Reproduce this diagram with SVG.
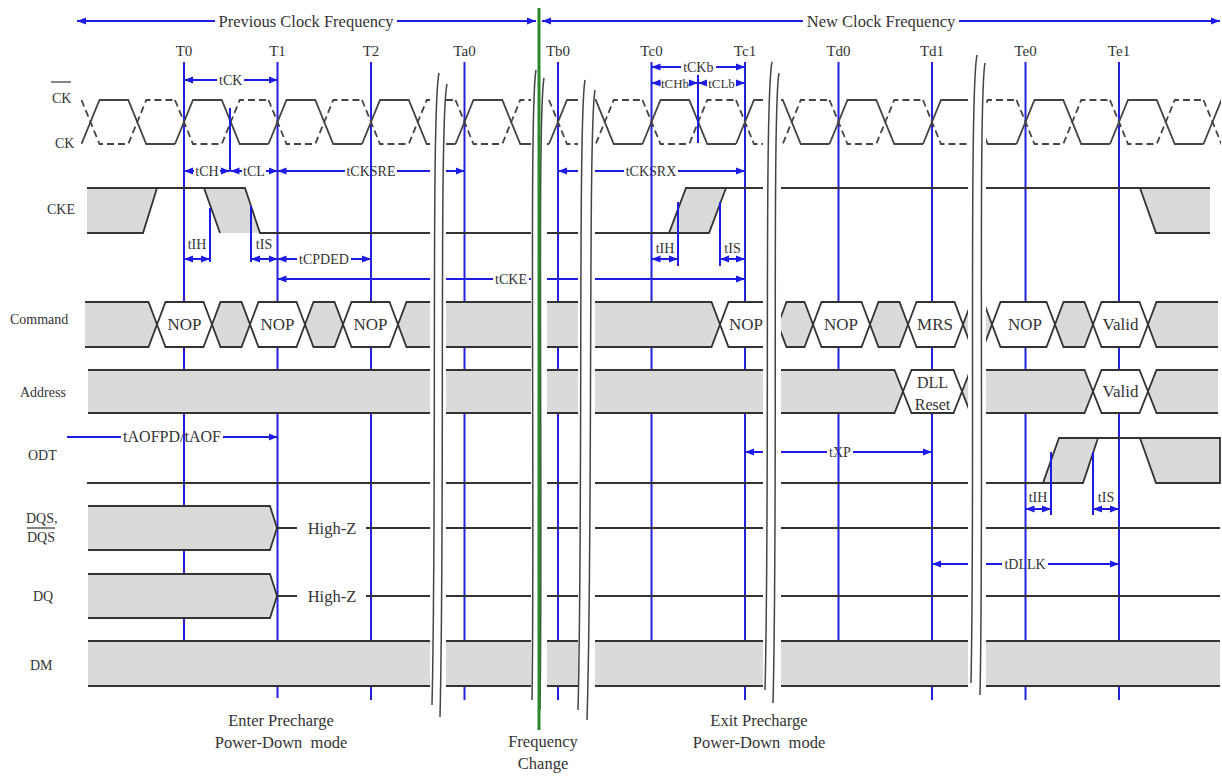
<svg xmlns="http://www.w3.org/2000/svg" xmlns:xlink="http://www.w3.org/1999/xlink" width="1222" height="776" viewBox="0 0 1222 776">
<style>
text{font-family:"Liberation Serif","Times New Roman",serif;fill:#333}
.lbl{font-size:14px}
.tl{font-size:15px;text-anchor:middle}
.dl{font-size:14px;text-anchor:middle}
.nl{font-size:14px;text-anchor:middle}
.cmd{font-size:17px;text-anchor:middle}
.big{font-size:16.5px;text-anchor:middle}
.clk{fill:none;stroke:#444;stroke-width:1.8}
.sig{fill:none;stroke:#333;stroke-width:1.8}
.g{fill:#dadada;stroke:#333;stroke-width:1.8}
.w{fill:#fff;stroke:#333;stroke-width:1.8}
.gf{fill:#dadada;stroke:none}
.bl{fill:none;stroke:#2222dd;stroke-width:2}
.dim{fill:none;stroke:#1c1ce6;stroke-width:2}
.brk{fill:none;stroke:#444;stroke-width:1.5}
</style>
<defs>
<marker id="ah" viewBox="0 0 10 8" refX="10" refY="4" markerWidth="9" markerHeight="7.5" markerUnits="userSpaceOnUse" orient="auto-start-reverse">
<path d="M0,0 L10,4 L0,8 Z" fill="#1c1ce6"/>
</marker>
<g id="ckp">
<path class="clk" d="M-9,144 L9,100 L37.75,100 L55.75,144 L84.5,144"/>
<path class="clk" stroke-dasharray="7 4" d="M-9,100 L9,144 L37.75,144 L55.75,100 L84.5,100"/>
</g>
<clipPath id="ckclip"><rect x="81" y="90" width="1140" height="60"/></clipPath>
</defs>
<rect width="1222" height="776" fill="#fff"/>

<!-- dimension lines (connectors) -->
<g id="dimensions">
<path class="dim" d="M184,80 L217,80" marker-start="url(#ah)"/>
<path class="dim" d="M244,80 L277.5,80" marker-end="url(#ah)"/>
<text class="dl" x="230.7" y="85">tCK</text>
<path class="dim" d="M651.5,67 L681,67" marker-start="url(#ah)"/>
<path class="dim" d="M716,67 L745,67" marker-end="url(#ah)"/>
<text class="dl" x="698.3" y="72">tCKb</text>
<path class="dim" d="M651.5,83 L660.5,83" marker-start="url(#ah)"/>
<path class="dim" d="M689.5,83 L698,83" marker-end="url(#ah)"/>
<text class="dl" x="675" y="88" style="font-size:13px">tCHb</text>
<path class="dim" d="M698,83 L707,83" marker-start="url(#ah)"/>
<path class="dim" d="M736,83 L745,83" marker-end="url(#ah)"/>
<text class="dl" x="721.5" y="88" style="font-size:13px">tCLb</text>
<path class="dim" d="M184,171 L194,171" marker-start="url(#ah)"/>
<path class="dim" d="M220,171 L230,171" marker-end="url(#ah)"/>
<text class="dl" x="207" y="176">tCH</text>
<path class="dim" d="M230.5,171 L242,171" marker-start="url(#ah)"/>
<path class="dim" d="M266,171 L277.5,171" marker-end="url(#ah)"/>
<text class="dl" x="254" y="176">tCL</text>
<path class="dim" d="M277.5,171 L345,171" marker-start="url(#ah)"/>
<path class="dim" d="M397,171 L464.5,171" marker-end="url(#ah)"/>
<text class="dl" x="371" y="176">tCKSRE</text>
<path class="dim" d="M558,171 L624,171" marker-start="url(#ah)"/>
<path class="dim" d="M678,171 L745,171" marker-end="url(#ah)"/>
<text class="dl" x="651" y="176">tCKSRX</text>
<path class="dim" d="M184,259 L210,259" marker-start="url(#ah)" marker-end="url(#ah)"/>
<text class="nl" x="197" y="249">tIH</text>
<path class="dim" d="M251,259 L277.5,259" marker-start="url(#ah)" marker-end="url(#ah)"/>
<text class="nl" x="264" y="249">tIS</text>
<path class="dim" d="M277.5,259 L297,259" marker-start="url(#ah)"/>
<path class="dim" d="M351,259 L371,259" marker-end="url(#ah)"/>
<text class="dl" x="324" y="264">tCPDED</text>
<path class="dim" d="M277.5,279 L493,279" marker-start="url(#ah)"/>
<path class="dim" d="M529,279 L745,279" marker-end="url(#ah)"/>
<text class="dl" x="511" y="284">tCKE</text>
<path class="dim" d="M651.5,259 L678,259" marker-start="url(#ah)" marker-end="url(#ah)"/>
<text class="nl" x="665" y="253">tIH</text>
<path class="dim" d="M720,259 L745,259" marker-start="url(#ah)" marker-end="url(#ah)"/>
<text class="nl" x="732.5" y="253">tIS</text>
<path class="dim" d="M67,437 L121,437"/>
<path class="dim" d="M223,437 L277.5,437" marker-end="url(#ah)"/>
<text class="dl" x="172" y="442" style="font-size:16px">tAOFPD/tAOF</text>
<path class="dim" d="M745,452 L827,452" marker-start="url(#ah)"/>
<path class="dim" d="M853,452 L932,452" marker-end="url(#ah)"/>
<text class="dl" x="840" y="457">tXP</text>
<path class="dim" d="M1025.5,509 L1051,509" marker-start="url(#ah)" marker-end="url(#ah)"/>
<text class="nl" x="1038" y="502">tIH</text>
<path class="dim" d="M1093,509 L1119,509" marker-start="url(#ah)" marker-end="url(#ah)"/>
<text class="nl" x="1106" y="502">tIS</text>
<path class="dim" d="M932,564 L1002,564" marker-start="url(#ah)"/>
<path class="dim" d="M1048,564 L1119,564" marker-end="url(#ah)"/>
<text class="dl" x="1025" y="569">tDLLK</text>
</g>

<!-- clock edge reference lines -->
<g id="edges">
<path class="bl" d="M184,62 V641 M277.5,62 V698 M371,62 V700 M464.5,62 V700 M558,62 V700 M651.5,62 V641 M745,62 V700 M838.5,62 V641 M932,62 V700 M1025.5,62 V700 M1119,62 V700"/>
</g>

<!-- clock -->
<g id="clock" clip-path="url(#ckclip)">
<use href="#ckp" x="90.5"/><use href="#ckp" x="184"/><use href="#ckp" x="277.5"/><use href="#ckp" x="371"/>
<use href="#ckp" x="464.5"/><use href="#ckp" x="558"/><use href="#ckp" x="651.5"/><use href="#ckp" x="745"/>
<use href="#ckp" x="838.5"/><use href="#ckp" x="932"/><use href="#ckp" x="1025.5"/><use href="#ckp" x="1119"/>
<use href="#ckp" x="1212.5"/>
</g>

<!-- CKE -->
<g id="cke">
<path class="gf" d="M87,188 L157,188 L143,233 L87,233 Z"/>
<path class="gf" d="M204,188 L245,188 L260,233 L220,233 Z"/>
<path class="gf" d="M669,233 L686,188 L726,188 L709,233 Z"/>
<path class="gf" d="M1140,188 L1210,188 L1210,233 L1156,233 Z"/>
<path class="sig" d="M87,188 L245,188 L260,233 L669,233 L686,188 L1210,188"/>
<path class="sig" d="M87,233 L143,233 L157,188 M204,188 L220,233 M669,233 L709,233 L726,188 M1140,188 L1156,233 L1210,233"/>
</g>

<!-- Command -->
<g id="command">
<path class="g" d="M85,302 L148.5,302 L157,324.5 L148.5,347 L85,347"/>
<path class="w" d="M157,324.5 L165.5,302 L203.5,302 L212,324.5 L203.5,347 L165.5,347 Z"/>
<path class="g" d="M212,324.5 L220.5,302 L241.5,302 L250,324.5 L241.5,347 L220.5,347 Z"/>
<path class="w" d="M250,324.5 L258.5,302 L296.5,302 L305,324.5 L296.5,347 L258.5,347 Z"/>
<path class="g" d="M305,324.5 L313.5,302 L334.5,302 L343,324.5 L334.5,347 L313.5,347 Z"/>
<path class="w" d="M343,324.5 L351.5,302 L389.5,302 L398,324.5 L389.5,347 L351.5,347 Z"/>
<path class="g" d="M398,324.5 L406.5,302 L711.5,302 L720,324.5 L711.5,347 L406.5,347 Z"/>
<path class="w" d="M720,324.5 L728.5,302 L769.5,302 L778,324.5 L769.5,347 L728.5,347 Z"/>
<path class="g" d="M778,324.5 L786.5,302 L804.5,302 L813,324.5 L804.5,347 L786.5,347 Z"/>
<path class="w" d="M813,324.5 L821.5,302 L861.5,302 L870,324.5 L861.5,347 L821.5,347 Z"/>
<path class="g" d="M870,324.5 L878.5,302 L899.5,302 L908,324.5 L899.5,347 L878.5,347 Z"/>
<path class="w" d="M908,324.5 L916.5,302 L954.5,302 L963,324.5 L954.5,347 L916.5,347 Z"/>
<path class="g" d="M963,324.5 L971.5,302 L983.5,302 L992,324.5 L983.5,347 L971.5,347 Z"/>
<path class="w" d="M992,324.5 L1000.5,302 L1046.5,302 L1055,324.5 L1046.5,347 L1000.5,347 Z"/>
<path class="g" d="M1055,324.5 L1063.5,302 L1084.5,302 L1093,324.5 L1084.5,347 L1063.5,347 Z"/>
<path class="w" d="M1093,324.5 L1101.5,302 L1139.5,302 L1148,324.5 L1139.5,347 L1101.5,347 Z"/>
<path class="g" d="M1218,302 L1156.5,302 L1148,324.5 L1156.5,347 L1218,347"/>
</g>

<!-- Address -->
<g id="address">
<path class="g" d="M88,370 L894.5,370 L903,391.5 L894.5,413 L88,413"/>
<path class="w" d="M903,391.5 L911.5,370 L953.5,370 L962,391.5 L953.5,413 L911.5,413 Z"/>
<path class="g" d="M962,391.5 L970.5,370 L1084.5,370 L1093,391.5 L1084.5,413 L970.5,413 Z"/>
<path class="w" d="M1093,391.5 L1101.5,370 L1139.5,370 L1148,391.5 L1139.5,413 L1101.5,413 Z"/>
<path class="g" d="M1218,370 L1156.5,370 L1148,391.5 L1156.5,413 L1218,413"/>
</g>

<!-- ODT -->
<g id="odt">
<path class="gf" d="M1043,483 L1059,438 L1098,438 L1083,483 Z"/>
<path class="gf" d="M1140,438 L1220,438 L1220,483 L1156,483 Z"/>
<path class="sig" d="M87,483 L1043,483 L1059,438 L1220,438 L1220,483 L1156,483 L1140,438"/>
<path class="sig" d="M1043,483 L1083,483 L1098,438"/>
</g>

<!-- DQS -->
<g id="dqs">
<path class="g" d="M88,506 L270,506 L277,528 L270,550 L88,550"/>
<path class="sig" d="M277,528 L297,528 M366,528 L1220,528"/>
</g>

<!-- DQ -->
<g id="dq">
<path class="g" d="M88,574 L270,574 L277,596 L270,618 L88,618"/>
<path class="sig" d="M277,596 L297,596 M366,596 L1220,596"/>
</g>

<!-- DM -->
<g id="dm">
<rect class="gf" x="88" y="641" width="1132" height="45"/>
<path class="sig" d="M88,641 L1220,641 M88,686 L1220,686"/>
</g>

<!-- setup/hold ticks -->
<g id="ticks">
<path class="dim" d="M230,108 V171 M698,75 V143 M210,208 V262 M251,206 V262 M678,202 V266 M720,202 V266 M1051,452 V515 M1093,452 V515"/>
</g>

<!-- time breaks -->
<g id="breaks">
<rect x="430" y="88" width="16" height="608" fill="#fff"/>
<path class="brk" d="M439,73 C431,110 437,500 432,705 M447,84 C439,120 445,510 440,717"/>
<rect x="531" y="88" width="16" height="608" fill="#fff"/>
<path class="brk" d="M536,70 C529,110 535,500 532,700 M544,78 C537,118 543,510 540,710"/>
<rect x="578" y="88" width="17" height="608" fill="#fff"/>
<path class="brk" d="M585,80 C578,120 583,520 578,710 M595,90 C588,130 593,530 587,720"/>
<rect x="763" y="88" width="18" height="608" fill="#fff"/>
<path class="brk" d="M772,62 C764,100 770,500 765,690 M779,73 C772,110 778,510 773,703"/>
<rect x="968" y="88" width="18" height="608" fill="#fff"/>
<path class="brk" d="M977,55 C969,95 975,500 971,683 M985,63 C978,100 984,510 980,695"/>
</g>

<!-- frequency change line -->
<g id="freq-change">
<line x1="539" y1="8" x2="539" y2="730" stroke="#2a8a2a" stroke-width="3"/>
</g>

<!-- top frequency arrows -->
<g id="freq-arrows">
<path class="dim" d="M77,21 L215,21" marker-start="url(#ah)"/>
<path class="dim" d="M397,21 L536,21" marker-end="url(#ah)"/>
<path class="dim" d="M542,21 L803,21" marker-start="url(#ah)"/>
<path class="dim" d="M959,21 L1220,21" marker-end="url(#ah)"/>
<text class="big" x="306" y="27">Previous Clock Frequency</text>
<text class="big" x="881" y="27">New Clock Frequency</text>
</g>

<!-- edge labels -->
<g id="edge-labels">
<text class="tl" x="184" y="56">T0</text>
<text class="tl" x="277.5" y="56">T1</text>
<text class="tl" x="371" y="56">T2</text>
<text class="tl" x="464.5" y="56">Ta0</text>
<text class="tl" x="558" y="56">Tb0</text>
<text class="tl" x="651.5" y="56">Tc0</text>
<text class="tl" x="745" y="56">Tc1</text>
<text class="tl" x="838.5" y="56">Td0</text>
<text class="tl" x="932" y="56">Td1</text>
<text class="tl" x="1025.5" y="56">Te0</text>
<text class="tl" x="1119" y="56">Te1</text>
</g>

<!-- signal names -->
<g id="signal-names">
<text class="lbl" x="52" y="103">CK</text>
<line x1="51" y1="82" x2="71" y2="82" stroke="#333" stroke-width="1.2"/>
<text class="lbl" x="55" y="148">CK</text>
<text class="lbl" x="47" y="214">CKE</text>
<text class="lbl" x="10" y="324">Command</text>
<text class="lbl" x="20" y="397">Address</text>
<text class="lbl" x="28" y="460">ODT</text>
<text class="lbl" x="26" y="523">DQS,</text>
<text class="lbl" x="27" y="542">DQS</text>
<line x1="27" y1="528" x2="55" y2="528" stroke="#333" stroke-width="1.2"/>
<text class="lbl" x="33" y="601">DQ</text>
<text class="lbl" x="30" y="670">DM</text>
</g>

<!-- bus values -->
<g id="bus-values">
<text class="cmd" x="184.5" y="330">NOP</text>
<text class="cmd" x="277.5" y="330">NOP</text>
<text class="cmd" x="370.5" y="330">NOP</text>
<text class="cmd" x="746" y="330">NOP</text>
<text class="cmd" x="841" y="330">NOP</text>
<text class="cmd" x="935" y="330">MRS</text>
<text class="cmd" x="1025" y="330">NOP</text>
<text class="cmd" x="1120.5" y="330">Valid</text>
<text class="cmd" x="932.5" y="388" style="font-size:16px">DLL</text>
<text class="cmd" x="932.5" y="410" style="font-size:16px">Reset</text>
<text class="cmd" x="1120.5" y="397">Valid</text>
<text class="big" x="332" y="534">High-Z</text>
<text class="big" x="332" y="602">High-Z</text>
</g>

<!-- annotations -->
<g id="notes">
<text class="big" x="281" y="726">Enter Precharge</text>
<text class="big" x="281" y="748" xml:space="preserve">Power-Down  mode</text>
<text class="big" x="543" y="747">Frequency</text>
<text class="big" x="543" y="769">Change</text>
<text class="big" x="759" y="726">Exit Precharge</text>
<text class="big" x="759" y="748" xml:space="preserve">Power-Down  mode</text>
</g>
</svg>
